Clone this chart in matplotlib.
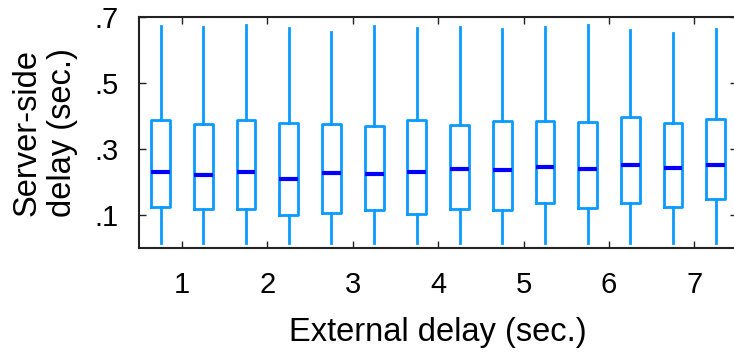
import matplotlib.pyplot as plt

plt.rcParams['font.family'] = ['Liberation Sans', 'DejaVu Sans']

# Server-side delay distributions, one box per half-second of external delay
positions = [0.75, 1.25, 1.75, 2.25, 2.75, 3.25, 3.75, 4.25, 4.75, 5.25, 5.75, 6.25, 6.75, 7.25]
whisker_low = [0.015] * 14
q1 = [0.124, 0.118, 0.118, 0.102, 0.107, 0.115, 0.105, 0.119, 0.115, 0.136, 0.121, 0.138, 0.126, 0.149]
medians = [0.231, 0.222, 0.231, 0.209, 0.228, 0.224, 0.231, 0.240, 0.237, 0.245, 0.239, 0.252, 0.242, 0.253]
q3 = [0.388, 0.376, 0.388, 0.379, 0.376, 0.370, 0.388, 0.374, 0.384, 0.386, 0.381, 0.396, 0.378, 0.392]
whisker_high = [0.673, 0.668, 0.675, 0.665, 0.653, 0.671, 0.665, 0.668, 0.662, 0.670, 0.674, 0.661, 0.651, 0.664]

xticks = [1, 2, 3, 4, 5, 6, 7]
yticks = [0.1, 0.3, 0.5, 0.7]
ytick_labels = ['.1', '.3', '.5', '.7']

BOX_COLOR = '#0a9bff'
MEDIAN_COLOR = '#0000ff'

stats = []
for lo, a, m, b, hi in zip(whisker_low, q1, medians, q3, whisker_high):
    stats.append({'whislo': lo, 'q1': a, 'med': m, 'q3': b, 'whishi': hi, 'fliers': []})

fig = plt.figure(figsize=(7.34, 3.52), dpi=100)
ax = fig.add_axes([0.1898, 0.2946, 0.8143, 0.658])

ax.bxp(stats, positions=positions, widths=0.22, showcaps=False, showfliers=False,
       boxprops=dict(color=BOX_COLOR, linewidth=2),
       whiskerprops=dict(color=BOX_COLOR, linewidth=2),
       medianprops=dict(color=MEDIAN_COLOR, linewidth=3, solid_capstyle='butt'))

ax.set_xlim(0.5, 7.5)
ax.set_ylim(0, 0.7)
ax.set_xticks(xticks)
ax.set_xticklabels([str(t) for t in xticks])
ax.set_yticks(yticks)
ax.set_yticklabels(ytick_labels)

ax.tick_params(direction='in', top=True, right=True, length=5, width=1,
               color='#222222', labelsize=21)
ax.tick_params(axis='x', pad=16)
ax.tick_params(axis='y', pad=15)
for spine in ax.spines.values():
    spine.set_linewidth(1.5)
    spine.set_color('#222222')

ax.set_xlabel('External delay (sec.)', fontsize=23.5, labelpad=13)
ax.set_ylabel('Server-side\ndelay (sec.)', fontsize=23.5, linespacing=1.15, labelpad=12)

fig.savefig('out.png', dpi=100)
